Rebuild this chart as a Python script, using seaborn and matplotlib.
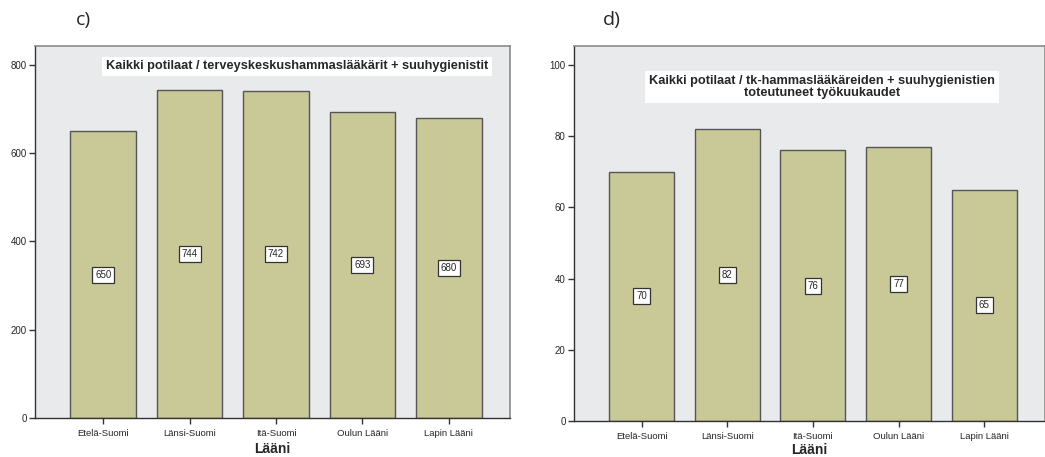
import numpy as np
import pandas as pd
import seaborn as sns
import matplotlib
matplotlib.use("Agg")
import matplotlib.pyplot as plt

# data
laanit = ["Etelä-Suomi", "Länsi-Suomi", "Itä-Suomi", "Oulun Lääni", "Lapin Lääni"]
potilaat_per_hlt = [650, 744, 742, 693, 680]
potilaat_per_tyokk = [70, 82, 76, 77, 65]
title_c = "Kaikki potilaat / terveyskeskushammaslääkärit + suuhygienistit"
title_d = "Kaikki potilaat / tk-hammaslääkäreiden + suuhygienistien\ntoteutuneet työkuukaudet"

sns.set_style("white")
plt.rcParams['font.family'] = ['Liberation Sans', 'DejaVu Sans']

bar_col = "#c9c997"
bg_col = "#e9eaec"

fig = plt.figure(figsize=(10.45, 4.57), dpi=100)
ax1 = fig.add_axes([35/1045, 1-418/457, 475/1045, 372/457])
ax2 = fig.add_axes([574/1045, 1-421/457, 471/1045, 375/457])


def draw(ax, vals, ymax, yticks, title, tpos, lpad):
    df = pd.DataFrame({"Lääni": laanit, "arvo": vals})
    sns.barplot(data=df, x="Lääni", y="arvo", ax=ax, color=bar_col,
                width=0.76, edgecolor="#555555", linewidth=1, saturation=1)
    ax.set_facecolor(bg_col)
    ax.set_xlim(-0.79, 4.71)
    ax.set_ylim(0, ymax)
    ax.set_yticks(yticks)
    ax.tick_params(axis="both", length=4, width=1,
                   direction="out", color="#333333", pad=2)
    ax.tick_params(axis="y", left=True, labelsize=7)
    ax.tick_params(axis="x", bottom=True, pad=4, labelsize=6.8)
    ax.set_ylabel("")
    ax.set_xlabel("Lääni", fontsize=10, fontweight="bold", labelpad=lpad)
    for s in ["left", "bottom"]:
        ax.spines[s].set_color("#333333")
        ax.spines[s].set_linewidth(1)
    for s in ["top", "right"]:
        ax.spines[s].set_color("#8a8a8a")
        ax.spines[s].set_linewidth(1.2)
    for i, v in enumerate(vals):
        ax.text(i, v / 2, str(v), ha="center", va="center", fontsize=7,
                bbox=dict(boxstyle="square,pad=0.3", fc="white", ec="#333333", lw=0.9))
    ax.text(tpos[0], tpos[1], title, transform=ax.transAxes, ha="center", va="center",
            fontsize=9.2, fontweight="bold", linespacing=1.0,
            bbox=dict(boxstyle="square,pad=0.3", fc="white", ec="none"))


draw(ax1, potilaat_per_hlt, 843, [0, 200, 400, 600, 800], title_c, (0.552, 0.945), 3)
draw(ax2, potilaat_per_tyokk, 105.3, [0, 20, 40, 60, 80, 100], title_d, (0.527, 0.89), 1)

fig.text(83/1045, 1-20/457, "c)", fontsize=14, ha="center", va="center", family=["Open Sans", "DejaVu Sans"])
fig.text(612/1045, 1-20/457, "d)", fontsize=14, ha="center", va="center", family=["Open Sans", "DejaVu Sans"])

fig.savefig("out.png", dpi=100)
